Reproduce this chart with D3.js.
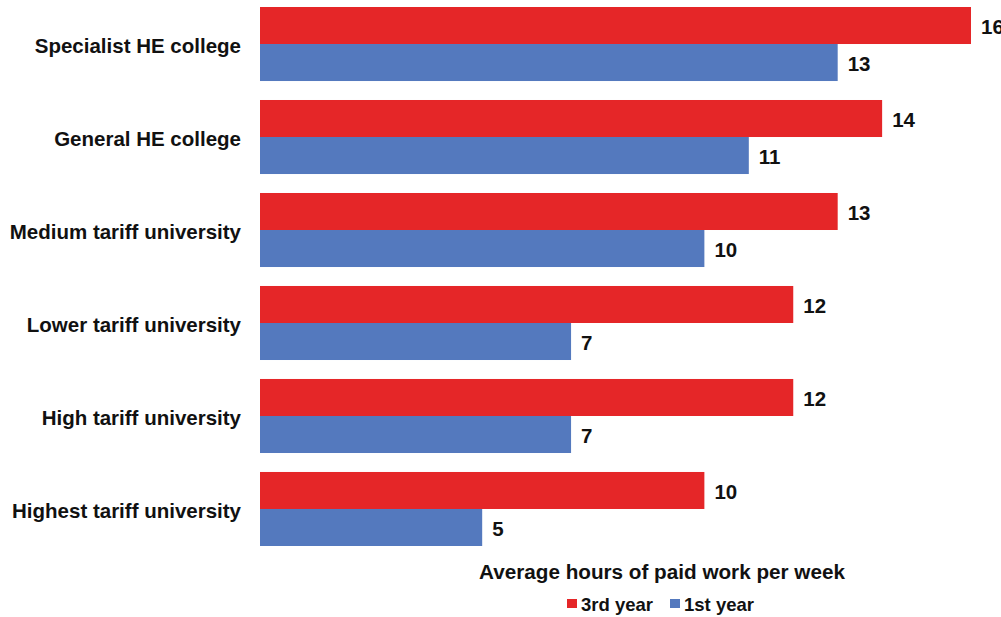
<!DOCTYPE html>
<html>
<head>
<meta charset="utf-8">
<script src="https://cdn.jsdelivr.net/npm/d3@7"></script>
<style>
  body { margin: 0; background: #fff; }
  text { font-family: "Liberation Sans", Arial, sans-serif; font-weight: bold; fill: #111; }
</style>
</head>
<body>
<svg></svg>
<script>
// data
const categories = [
  "Specialist HE college",
  "General HE college",
  "Medium tariff university",
  "Lower tariff university",
  "High tariff university",
  "Highest tariff university"
];
const seriesNames = ["3rd year", "1st year"];
const thirdYear = [16, 14, 13, 12, 12, 10];
const firstYear = [13, 11, 10, 7, 7, 5];
const axisTitle = "Average hours of paid work per week";

const colors = { "3rd year": "#e52628", "1st year": "#5479be" };

const width = 1001;
const height = 617;

const svg = d3.select("svg")
  .attr("width", width)
  .attr("height", height);

const rows = categories.map((c, i) => ({
  cat: c,
  values: [
    { key: "3rd year", value: thirdYear[i] },
    { key: "1st year", value: firstYear[i] }
  ]
}));

// scales
const xScale = d3.scaleLinear()
  .domain([0, 16])
  .range([260, 971]);

const yScale = d3.scaleBand()
  .domain(categories)
  .range([7, 546])
  .paddingInner(0.204)
  .paddingOuter(0);

const ySub = d3.scaleBand()
  .domain(seriesNames)
  .range([0, yScale.bandwidth()]);

// bars
const groups = svg.selectAll(".group")
  .data(rows)
  .enter()
  .append("g")
  .attr("class", "group")
  .attr("transform", (d) => `translate(0, ${yScale(d.cat)})`);

groups.selectAll("rect")
  .data((d) => d.values)
  .enter()
  .append("rect")
  .attr("x", xScale(0))
  .attr("y", (d) => ySub(d.key))
  .attr("width", (d) => xScale(d.value) - xScale(0))
  .attr("height", ySub.bandwidth())
  .attr("fill", (d) => colors[d.key]);

groups.selectAll(".val")
  .data((d) => d.values)
  .enter()
  .append("text")
  .attr("class", "val")
  .attr("x", (d) => xScale(d.value) + 10)
  .attr("y", (d) => ySub(d.key) + ySub.bandwidth() / 2)
  .attr("dy", "0.4em")
  .style("font-size", "20.5px")
  .text((d) => d.value);

// category labels
const yAxis = d3.axisLeft(yScale).tickSize(0).tickPadding(19);
const yG = svg.append("g")
  .attr("transform", `translate(${xScale(0)}, 0)`)
  .call(yAxis);
yG.select(".domain").remove();
yG.selectAll("text")
  .attr("dy", "0.42em")
  .style("font-size", "20.5px")
  .style("font-family", "'Liberation Sans', Arial, sans-serif")
  .style("font-weight", "bold")
  .attr("fill", "#111");

// axis title
svg.append("text")
  .attr("x", 662)
  .attr("y", 579)
  .attr("text-anchor", "middle")
  .style("font-size", "20.7px")
  .text(axisTitle);

// legend
const legendPos = [567, 670];
const legend = svg.selectAll(".legend")
  .data(seriesNames)
  .enter()
  .append("g")
  .attr("class", "legend")
  .attr("transform", (d, i) => `translate(${legendPos[i]}, 599)`);

legend.append("rect")
  .attr("width", 10)
  .attr("height", 9)
  .attr("fill", (d) => colors[d]);

legend.append("text")
  .attr("x", 14)
  .attr("y", 11.5)
  .style("font-size", "18.5px")
  .text((d) => d);
</script>
</body>
</html>
